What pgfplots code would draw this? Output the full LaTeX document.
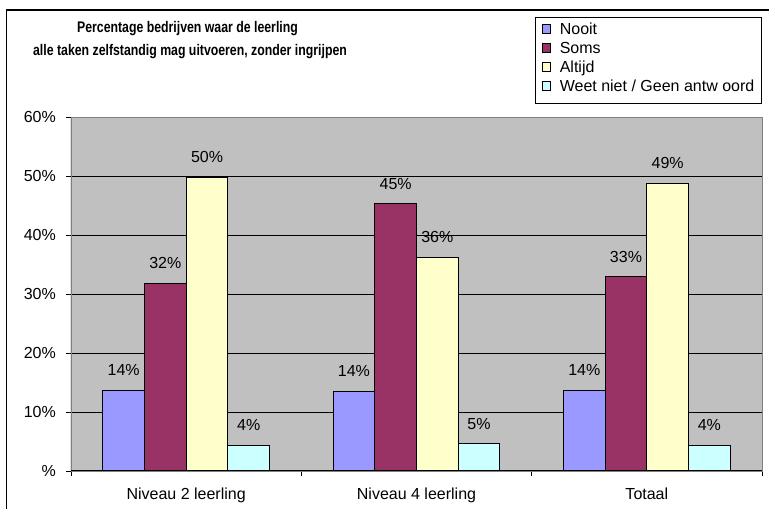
\documentclass[border=0pt]{standalone}
\usepackage{fontspec}
\setmainfont{Liberation Sans}
\usepackage{pgfplots}
\pgfplotsset{compat=1.18}
\definecolor{cNooit}{HTML}{9999FF}
\definecolor{cSoms}{HTML}{993366}
\definecolor{cAltijd}{HTML}{FFFFCC}
\definecolor{cWeet}{HTML}{CCFFFF}
\definecolor{plotgray}{HTML}{C0C0C0}
\definecolor{boxgray}{HTML}{808080}
\newcommand{\lblfont}{\fontsize{16}{18}\selectfont}
\begin{document}
\begin{tikzpicture}[x=1pt,y=1pt]
\path[use as bounding box] (0,0) rectangle (769,509);
\draw[line width=1.3pt] (6.5,0) -- (6.5,499) -- (769,499);
\node[anchor=base, inner sep=0pt, font=\bfseries\fontsize{12.3}{15}\selectfont] at (187.5,476) {\scalebox{1}[1.25]{Percentage bedrijven waar de leerling}};
\node[anchor=base, inner sep=0pt, font=\bfseries\fontsize{12.3}{15}\selectfont] at (190,453) {\scalebox{1}[1.25]{alle taken zelfstandig mag uitvoeren, zonder ingrijpen}};
\draw[line width=0.8pt] (535,492) rectangle (761,406);
\begin{axis}[
  at={(71pt,38pt)}, anchor=south west,
  scale only axis, width=691pt, height=354pt,
  xmin=-0.5, xmax=2.5, ymin=0, ymax=60,
  ybar=0pt, bar width=41.7pt,
  axis background/.style={fill=plotgray},
  axis line style={boxgray, line width=0.8pt},
  ymajorgrids, grid style={black, line width=0.8pt},
  ytick={0,10,20,30,40,50,60},
  yticklabels={\%,10\%,20\%,30\%,40\%,50\%,60\%},
  xtick={-0.5,0.5,1.5,2.5}, xticklabels={},
  extra x ticks={0,1,2},
  extra x tick labels={Niveau 2 leerling,Niveau 4 leerling,Totaal},
  extra x tick style={major tick length=0pt},
  tick align=outside, major tick length=5pt,
  tick style={black, line width=0.8pt},
  tick pos=left,
  yticklabel style={font=\lblfont, anchor=east, inner sep=0pt, xshift=-10pt},
  xticklabel style={font=\lblfont, anchor=north, inner sep=0pt, yshift=-17pt},
  point meta=explicit symbolic,
  nodes near coords={\pgfplotspointmeta\%},
  every node near coord/.append style={font=\lblfont, anchor=south, inner sep=0pt, yshift=14pt, text=black},
  every axis plot/.append style={draw=black, line width=1pt},
  legend style={at={(0.68162,1.26836)}, anchor=north west, draw=none, fill=none,
    inner sep=0pt, outer sep=0pt, row sep=3pt, column sep=8.7pt, font=\lblfont,
    nodes={inner sep=0pt, text height=12pt, text depth=4pt}},
  legend cell align=left,
  legend image code/.code={\draw[#1, line width=0.8pt] (0pt,-3pt) rectangle (8.3pt,5.3pt);},
]
\addplot[fill=cNooit] coordinates {(0,13.7) [14] (1,13.5) [14] (2,13.7) [14]};
\addplot[fill=cSoms] coordinates {(0,31.8) [32] (1,45.3) [45] (2,32.9) [33]};
\addplot[fill=cAltijd] coordinates {(0,49.8) [50] (1,36.2) [36] (2,48.8) [49]};
\addplot[fill=cWeet] coordinates {(0,4.4) [4] (1,4.6) [5] (2,4.4) [4]};
\legend{Nooit,Soms,Altijd,Weet niet / Geen antw oord}
\draw[black, line width=1pt] (rel axis cs:0,1) -- (rel axis cs:0,0) -- (rel axis cs:1,0);
\end{axis}
\end{tikzpicture}
\end{document}
